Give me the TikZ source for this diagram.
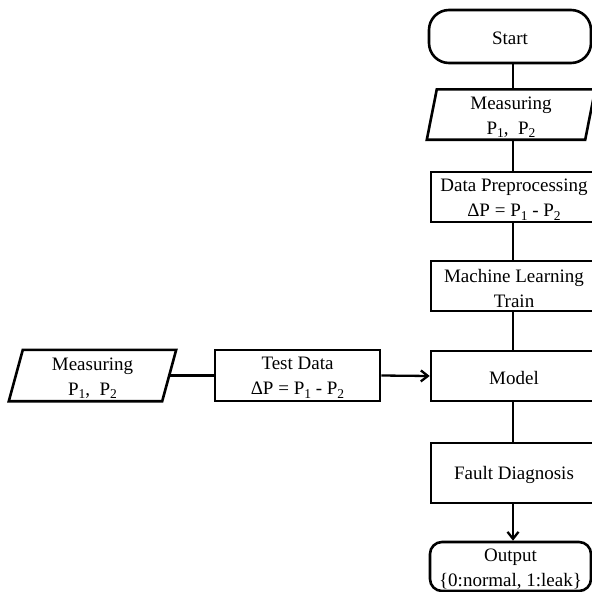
\documentclass[tikz,border=0pt]{standalone}
\usepackage{fontspec}
\setmainfont{Liberation Serif}
\usetikzlibrary{arrows.meta,calc}

\tikzset{
  x=1pt, y=-1pt,
  txt/.style={font=\fontsize{19}{25}\selectfont, align=center, inner sep=0pt},
  box/.style={txt, draw, line width=2.6pt, minimum width=#1},
  box/.default=166,
  slanted/.style={txt, minimum width=#1},
  outline/.style={line width=2.6pt, line join=miter},
  link/.style={line width=2.3pt},
  arrowlink/.style={link, -{Straight Barb[length=7pt,width=11pt,line width=2.3pt]}},
  lower/.style={label={[txt, yshift=-2.5pt]center:#1}},
  lower1/.style={label={[txt, yshift=-1.5pt]center:#1}},
}
\newcommand{\sub}[1]{\raisebox{-3.5pt}{\fontsize{13.5}{13.5}\selectfont #1}}
\newcommand{\Pone}{P\sub{1}}
\newcommand{\Ptwo}{P\sub{2}}

\begin{document}
\begin{tikzpicture}
\useasboundingbox[fill=white] (0,0) rectangle (592,592);

% right-hand column
\coordinate (colx) at (513,0);
\node[box=162, rounded corners=20pt, minimum height=53, lower1={Start}] (start) at (510,36.5) {};
\node[slanted=158, minimum height=50, lower={Measuring\\\Pone,\ \ \Ptwo}] (meas) at (511,114.5) {};
\draw[outline] ($(meas.north west)+(5,0)$) -- ($(meas.north east)+(5,0)$)
  -- ($(meas.south east)+(-5,0)$) -- ($(meas.south west)+(-5,0)$) -- cycle;
\node[box, minimum height=50, lower={Data Preprocessing\\ΔP = \Pone\ - \Ptwo}] (prep) at (514,197) {};
\node[box, minimum height=50, lower={Machine Learning\\Train}] (train) at (514,286) {};
\node[box, minimum height=50, lower1={Model}] (model) at (514,376) {};
\node[box, minimum height=60, lower1={Fault Diagnosis}] (fault) at (514,473) {};
\node[box=161, rounded corners=12pt, minimum height=49, lower={Output\\\{0:normal, 1:leak\}}] (out) at (510.5,566.5) {};

% left-hand branch
\node[slanted=153, minimum height=51, lower={Measuring\\\Pone,\ \ \Ptwo}] (tmeas) at (92.5,375.5) {};
\draw[outline] ($(tmeas.north west)+(7,0)$) -- ($(tmeas.north east)+(7,0)$)
  -- ($(tmeas.south east)+(-7,0)$) -- ($(tmeas.south west)+(-7,0)$) -- cycle;
\node[box=165, minimum height=51, lower={Test Data\\ΔP = \Pone\ - \Ptwo}] (test) at (297.5,375.5) {};

% connectors
\draw[link] (start.south -| colx) -- (meas.north -| colx);
\draw[link] (meas.south -| colx) -- (prep.north -| colx);
\draw[link] (prep.south -| colx) -- (train.north -| colx);
\draw[link] (train.south -| colx) -- (model.north -| colx);
\draw[link] (model.south -| colx) -- (fault.north -| colx);
\draw[arrowlink] (fault.south -| colx) -- (out.north -| colx);
\draw[link] (tmeas.east) -- (test.west);
\draw[arrowlink] (test.east) -- (model.west);
\end{tikzpicture}
\end{document}
